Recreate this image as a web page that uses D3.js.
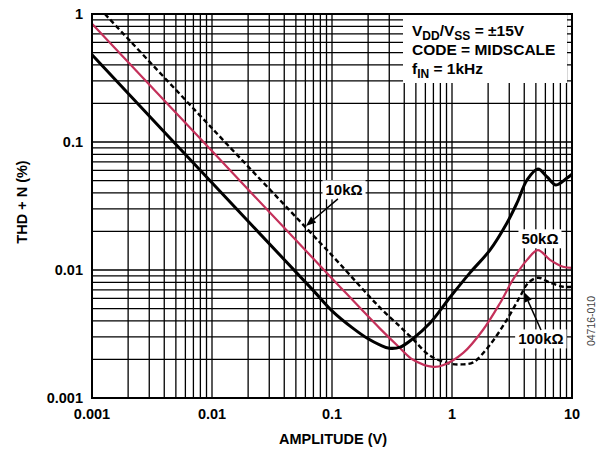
<!DOCTYPE html>
<html lang="en">
<head>
    <meta charset="UTF-8">
    <title>THD + N vs Amplitude</title>
    <script src="https://d3js.org/d3.v7.min.js"></script>
    <style>
        body {
            margin: 0;
            padding: 0;
            background: #fff;
        }

        svg text {
            font-family: "Liberation Sans", Arial, sans-serif;
            font-weight: bold;
            fill: #000;
        }

        .grid line {
            stroke: #000;
            stroke-width: 1.3;
        }

        .tick-label {
            font-size: 14.5px;
        }

        .axis-title {
            font-size: 14.5px;
        }

        .note {
            font-size: 15.5px;
        }

        .tag {
            font-size: 15px;
        }

        svg text.fig-id {
            font-size: 10.5px;
            font-weight: normal;
            fill: #444;
        }
    </style>
</head>
<body>
    <svg id="chart" width="603" height="451"></svg>
    <script>
        // x axis ticks and y axis ticks (both log)
        const xTicks = [0.001, 0.01, 0.1, 1, 10];
        const yTicks = [0.001, 0.01, 0.1, 1];
        const xTickLabels = ["0.001", "0.01", "0.1", "1", "10"];
        const yTickLabels = ["0.001", "0.01", "0.1", "1"];

        // curves: [amplitude V, THD+N %]
        const solidCurve = [
            [0.001, 0.48], [0.01, 0.048], [0.07, 0.0069], [0.1, 0.0048],
            [0.15, 0.0035], [0.2, 0.0029], [0.25, 0.0026], [0.3, 0.00245],
            [0.37, 0.0025], [0.47, 0.0029], [0.656, 0.00385], [0.96, 0.0061],
            [1.41, 0.0095], [2.07, 0.0143], [2.87, 0.0233], [3.48, 0.0334],
            [4.22, 0.0505], [5.2, 0.0615], [6.2, 0.0533], [7.35, 0.0461],
            [9.1, 0.0523], [10, 0.056]
        ];
        const redCurve = [
            [0.001, 0.84], [0.01, 0.085], [0.1, 0.0086], [0.25, 0.0035],
            [0.37, 0.00245], [0.47, 0.002], [0.7, 0.00175], [0.84, 0.0018],
            [1.24, 0.00225], [1.81, 0.0034], [2.51, 0.0055], [3.22, 0.0084],
            [4.22, 0.012], [5.2, 0.0143], [6.56, 0.012], [8.4, 0.0106],
            [10, 0.0104]
        ];
        const dashedCurve = [
            [0.00128, 1.0], [0.01, 0.128], [0.1, 0.013], [0.25, 0.0051],
            [0.37, 0.0036], [0.47, 0.0029], [0.65, 0.00215], [0.95, 0.00186],
            [1.2, 0.00183], [1.5, 0.0019], [2.07, 0.0026], [2.87, 0.0041],
            [3.69, 0.0062], [4.3, 0.0079], [5.2, 0.0087], [6.5, 0.008],
            [8.4, 0.0074], [10, 0.0074]
        ];

        // annotation labels: text, label centre, arrow tail, arrow tip (data units)
        const tags = [
            { text: "10kΩ", at: [0.126, 0.0422], from: [0.112, 0.0359], to: [0.0607, 0.0221] },
            { text: "50kΩ", at: [5.41, 0.0175] },
            { text: "100kΩ", at: [5.5, 0.00289], from: [5.52, 0.0034], to: [3.98, 0.00673] }
        ];

        const svg = d3.select("#chart");
        const plotLeft = 92, plotRight = 572, plotTop = 14, plotBottom = 398;

        const x = d3.scaleLog().domain([0.001, 10]).range([plotLeft, plotRight]);
        const y = d3.scaleLog().domain([0.001, 1]).range([plotBottom, plotTop]);

        // grid values 1..9 per decade
        function logGrid(lo, hi) {
            const out = [];
            for (let p = Math.round(Math.log10(lo)); p < Math.round(Math.log10(hi)); p++) {
                for (let k = 1; k <= 9; k++) out.push(k * Math.pow(10, p));
            }
            out.push(hi);
            return out;
        }

        const grid = svg.append("g").attr("class", "grid");
        grid.selectAll(".v")
            .data(logGrid(0.001, 10))
            .enter().append("line")
            .attr("x1", d => x(d)).attr("x2", d => x(d))
            .attr("y1", plotTop).attr("y2", plotBottom);
        grid.selectAll(".h")
            .data(logGrid(0.001, 1))
            .enter().append("line")
            .attr("y1", d => y(d)).attr("y2", d => y(d))
            .attr("x1", plotLeft).attr("x2", plotRight);

        // note box covers the grid
        const note = svg.append("g");
        note.append("rect")
            .attr("x", 403).attr("y", 15)
            .attr("width", 164).attr("height", 68)
            .attr("fill", "#fff");

        const line1 = note.append("text").attr("class", "note").attr("x", 412).attr("y", 36);
        line1.append("tspan").text("V");
        line1.append("tspan").attr("dy", 3.5).style("font-size", "12px").text("DD");
        line1.append("tspan").attr("dy", -3.5).text("/V");
        line1.append("tspan").attr("dy", 3.5).style("font-size", "12px").text("SS");
        line1.append("tspan").attr("dy", -3.5).text(" = ±15V");

        note.append("text").attr("class", "note").attr("x", 412).attr("y", 55).text("CODE = MIDSCALE");

        const line3 = note.append("text").attr("class", "note").attr("x", 412).attr("y", 74);
        line3.append("tspan").text("f");
        line3.append("tspan").attr("dy", 3.5).style("font-size", "12px").text("IN");
        line3.append("tspan").attr("dy", -3.5).text(" = 1kHz");

        // curves
        const line = d3.line()
            .x(d => x(d[0]))
            .y(d => y(d[1]))
            .curve(d3.curveCatmullRom.alpha(0.5));

        svg.append("path").datum(dashedCurve)
            .attr("d", line)
            .attr("fill", "none")
            .attr("stroke", "#000")
            .attr("stroke-width", 2.4)
            .attr("stroke-dasharray", "5,3");

        svg.append("path").datum(redCurve)
            .attr("d", line)
            .attr("fill", "none")
            .attr("stroke", "#c4305a")
            .attr("stroke-width", 2.2);

        svg.append("path").datum(solidCurve)
            .attr("d", line)
            .attr("fill", "none")
            .attr("stroke", "#000")
            .attr("stroke-width", 3);

        // frame
        svg.append("rect")
            .attr("x", plotLeft).attr("y", plotTop)
            .attr("width", plotRight - plotLeft).attr("height", plotBottom - plotTop)
            .attr("fill", "none")
            .attr("stroke", "#000")
            .attr("stroke-width", 2);

        // annotation tags with white backing and arrows
        tags.forEach(t => {
            const cx = x(t.at[0]), cy = y(t.at[1]);
            const bg = svg.append("rect").attr("fill", "#fff");
            const label = svg.append("text")
                .attr("class", "tag")
                .attr("x", cx).attr("y", cy)
                .attr("text-anchor", "middle")
                .attr("dy", "0.36em")
                .text(t.text);
            const bb = label.node().getBBox();
            bg.attr("x", bb.x - 3).attr("y", bb.y - 1)
                .attr("width", bb.width + 6).attr("height", bb.height + 2);

            if (t.from) {
                const x1 = x(t.from[0]), y1 = y(t.from[1]);
                const x2 = x(t.to[0]), y2 = y(t.to[1]);
                const ang = Math.atan2(y2 - y1, x2 - x1);
                const len = 10, half = 4;
                const bx = x2 - len * Math.cos(ang), by = y2 - len * Math.sin(ang);
                svg.append("line")
                    .attr("x1", x1).attr("y1", y1)
                    .attr("x2", bx).attr("y2", by)
                    .attr("stroke", "#000")
                    .attr("stroke-width", 1.5);
                svg.append("path")
                    .attr("d", `M${x2},${y2}L${bx + half * Math.sin(ang)},${by - half * Math.cos(ang)}L${bx - half * Math.sin(ang)},${by + half * Math.cos(ang)}Z`)
                    .attr("fill", "#000");
            }
        });

        // tick labels
        svg.selectAll(".xtick")
            .data(xTicks)
            .enter().append("text")
            .attr("class", "tick-label")
            .attr("x", d => x(d))
            .attr("y", 419)
            .attr("text-anchor", "middle")
            .text((d, i) => xTickLabels[i]);

        svg.selectAll(".ytick")
            .data(yTicks)
            .enter().append("text")
            .attr("class", "tick-label")
            .attr("x", 83)
            .attr("y", d => y(d))
            .attr("dy", "0.36em")
            .attr("text-anchor", "end")
            .text((d, i) => yTickLabels[i]);

        // axis titles
        svg.append("text")
            .attr("class", "axis-title")
            .attr("x", 333)
            .attr("y", 444)
            .attr("text-anchor", "middle")
            .text("AMPLITUDE (V)");

        svg.append("text")
            .attr("class", "axis-title")
            .attr("transform", `translate(27,${(plotTop + plotBottom) / 2 - 4}) rotate(-90)`)
            .attr("text-anchor", "middle")
            .text("THD + N (%)");

        svg.append("text")
            .attr("class", "fig-id")
            .attr("transform", "translate(595,321) rotate(-90)")
            .attr("text-anchor", "middle")
            .text("04716-010");
    </script>
</body>
</html>
